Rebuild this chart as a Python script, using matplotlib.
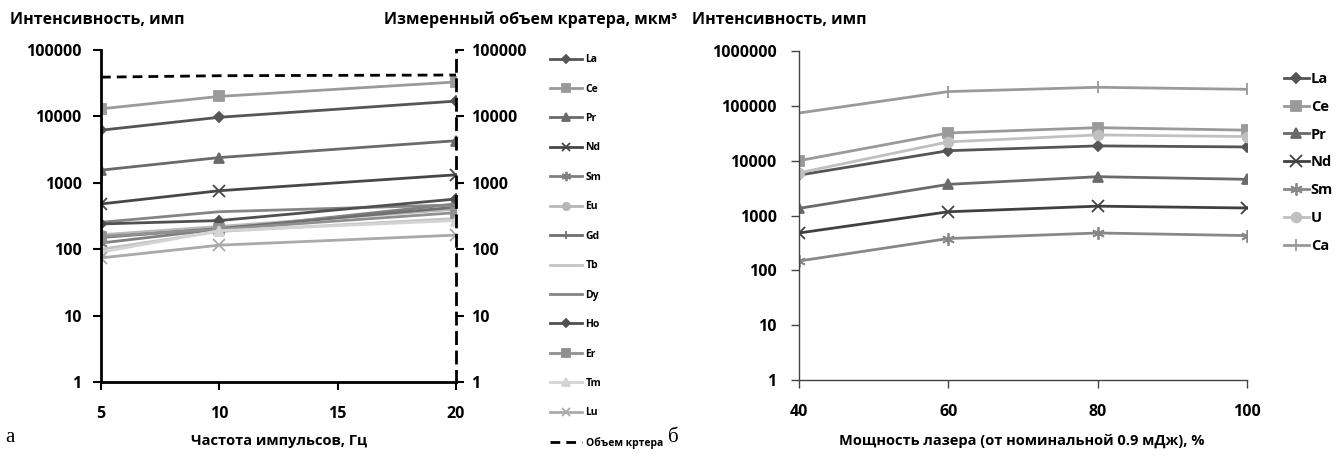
import matplotlib
matplotlib.use("Agg")
import matplotlib.pyplot as plt

plt.rcParams['font.family'] = ['Open Sans', 'DejaVu Sans']
plt.rcParams['font.weight'] = 'bold'

# ---- panel (a): intensity vs pulse frequency ----
freq = [5, 10, 20]
ree_a = ['La', 'Ce', 'Pr', 'Nd', 'Sm', 'Eu', 'Gd', 'Tb', 'Dy', 'Ho', 'Er', 'Tm', 'Lu']
la_a = [6200, 9700, 17000]
ce_a = [13000, 20000, 33000]
pr_a = [1550, 2400, 4300]
nd_a = [480, 760, 1320]
sm_a = [124, 200, 480]
eu_a = [165, 220, 400]
gd_a = [150, 205, 430]
tb_a = [100, 185, 290]
dy_a = [254, 367, 465]
ho_a = [240, 270, 570]
er_a = [155, 200, 355]
tm_a = [90, 190, 270]
lu_a = [74, 115, 163]
crater_volume = [39000, 41000, 42000]

# ---- panel (b): intensity vs laser power ----
power = [40, 60, 80, 100]
ree_b = ['La', 'Ce', 'Pr', 'Nd', 'Sm', 'U', 'Ca']
la_b = [5450, 15200, 18600, 17800]
ce_b = [10000, 32000, 40000, 36000]
pr_b = [1350, 3700, 5100, 4570]
nd_b = [480, 1170, 1480, 1370]
sm_b = [148, 380, 480, 430]
u_b = [6000, 22000, 29500, 27500]
ca_b = [74000, 182000, 218000, 200000]

ytick_a = [1, 10, 100, 1000, 10000, 100000]
ytick_b = [1, 10, 100, 1000, 10000, 100000, 1000000]

styles_a = {
    'La': ('#555555', 'D', 5),
    'Ce': ('#9a9a9a', 's', 7),
    'Pr': ('#6a6a6a', '^', 7),
    'Nd': ('#474747', 'x', 8),
    'Sm': ('#808080', (6, 2, 0), 9),
    'Eu': ('#b8b8b8', 'o', 7),
    'Gd': ('#707070', '|', 8),
    'Tb': ('#c4c4c4', None, 0),
    'Dy': ('#858585', None, 0),
    'Ho': ('#505050', 'D', 5),
    'Er': ('#909090', 's', 7),
    'Tm': ('#d4d4d4', '^', 7),
    'Lu': ('#aaaaaa', 'x', 8),
}
series_a = [la_a, ce_a, pr_a, nd_a, sm_a, eu_a, gd_a, tb_a, dy_a, ho_a, er_a, tm_a, lu_a]

styles_b = {
    'La': ('#555555', 'D', 5),
    'Ce': ('#9a9a9a', 's', 7),
    'Pr': ('#6a6a6a', '^', 7),
    'Nd': ('#404040', 'x', 8),
    'Sm': ('#888888', (6, 2, 0), 9),
    'U': ('#c0c0c0', 'o', 7),
    'Ca': ('#9a9a9a', '|', 9),
}
series_b = [la_b, ce_b, pr_b, nd_b, sm_b, u_b, ca_b]

fig = plt.figure(figsize=(13.44, 4.59), dpi=100)
tick_fs = 11.5

# ---------- panel (a) ----------
ax1 = fig.add_axes([101 / 1344, 1 - 382 / 459, 355 / 1344, 332 / 459])
handles = []
for name, vals in zip(ree_a, series_a):
    c, m, ms = styles_a[name]
    h, = ax1.plot(freq, vals, color=c, marker=m, markersize=ms, lw=2,
                  markeredgecolor=c, markeredgewidth=1.3, label=name)
    handles.append(h)
ax1.set_yscale('log')
ax1.set_ylim(1, 100000)
ax1.set_xlim(5, 20)
ax1.set_xticks([5, 10, 15, 20])
ax1.set_yticks(ytick_a)
ax1.set_yticklabels([str(v) for v in ytick_a])
ax1.minorticks_off()
ax1.tick_params(axis='both', labelsize=tick_fs, width=1.5, length=6, direction='out', pad=8)
ax1.tick_params(axis='x', pad=11)
for s in ['top', 'right']:
    ax1.spines[s].set_visible(False)
for s in ['left', 'bottom']:
    ax1.spines[s].set_linewidth(2)
    ax1.spines[s].set_color('black')

ax1r = ax1.twinx()
hv, = ax1r.plot(freq, crater_volume, color='black', ls=(0, (3.5, 2.2)), lw=2,
                label='Объем кртера')
ax1r.set_yscale('log')
ax1r.set_ylim(1, 100000)
ax1r.set_yticks(ytick_a)
ax1r.set_yticklabels([str(v) for v in ytick_a])
ax1r.minorticks_off()
ax1r.tick_params(axis='y', labelsize=tick_fs, width=1.5, length=6, direction='out', pad=5)
for s in ['top', 'left', 'bottom']:
    ax1r.spines[s].set_visible(False)
ax1r.spines['right'].set_linestyle((0, (4, 3)))
ax1r.spines['right'].set_linewidth(2)
handles.append(hv)

fig.legend(handles=handles, loc='upper left', bbox_to_anchor=(546 / 1344, 1 - 50 / 459),
           frameon=False, prop={'size': 7.5, 'weight': 'bold'}, markerscale=0.75,
           handlelength=3.1, labelspacing=1.77, handletextpad=0.3, borderaxespad=0)

fig.text(10 / 1344, 1 - 20 / 459, 'Интенсивность, имп', fontsize=11.5, fontweight='bold',
         va='center', ha='left')
fig.text(677 / 1344, 1 - 20 / 459, 'Измеренный объем кратера, мкм³', fontsize=11.5,
         fontweight='bold', va='center', ha='right')
fig.text(279 / 1344, 1 - 441 / 459, 'Частота импульсов, Гц', fontsize=10.5,
         fontweight='bold', va='center', ha='center')
fig.text(5 / 1344, 1 - 437 / 459, 'а', fontsize=15, fontweight='normal',
         family=['Liberation Serif', 'DejaVu Serif'], va='center', ha='left')

# ---------- panel (b) ----------
ax2 = fig.add_axes([799 / 1344, 1 - 380 / 459, 448 / 1344, 329 / 459])
handles2 = []
for name, vals in zip(ree_b, series_b):
    c, m, ms = styles_b[name]
    h, = ax2.plot(power, vals, color=c, marker=m, markersize=ms, lw=2,
                  markeredgecolor=c, markeredgewidth=1.3, label=name)
    handles2.append(h)
ax2.set_yscale('log')
ax2.set_ylim(1, 1000000)
ax2.set_xlim(40, 100)
ax2.set_xticks(power)
ax2.set_yticks(ytick_b)
ax2.set_yticklabels([str(v) for v in ytick_b])
ax2.minorticks_off()
ax2.tick_params(axis='both', labelsize=tick_fs, width=1, length=6, direction='out',
                color='#444444', pad=10)
ax2.tick_params(axis='x', pad=11)
for s in ['top', 'right']:
    ax2.spines[s].set_visible(False)
for s in ['left', 'bottom']:
    ax2.spines[s].set_linewidth(1)
    ax2.spines[s].set_color('#444444')

fig.legend(handles=handles2, loc='upper left', bbox_to_anchor=(1278 / 1344, 1 - 66 / 459),
           frameon=False, prop={'size': 10.5, 'weight': 'bold'},
           handlelength=1.7, labelspacing=0.95, handletextpad=0.15, borderaxespad=0)

fig.text(692 / 1344, 1 - 20 / 459, 'Интенсивность, имп', fontsize=11.5, fontweight='bold',
         va='center', ha='left')
fig.text(1022 / 1344, 1 - 441 / 459, 'Мощность лазера (от номинальной 0.9 мДж), %',
         fontsize=10.5, fontweight='bold', va='center', ha='center')
fig.text(668 / 1344, 1 - 437 / 459, 'б', fontsize=15, fontweight='normal',
         family=['Liberation Serif', 'DejaVu Serif'], va='center', ha='left')

fig.savefig('out.png', dpi=100)
